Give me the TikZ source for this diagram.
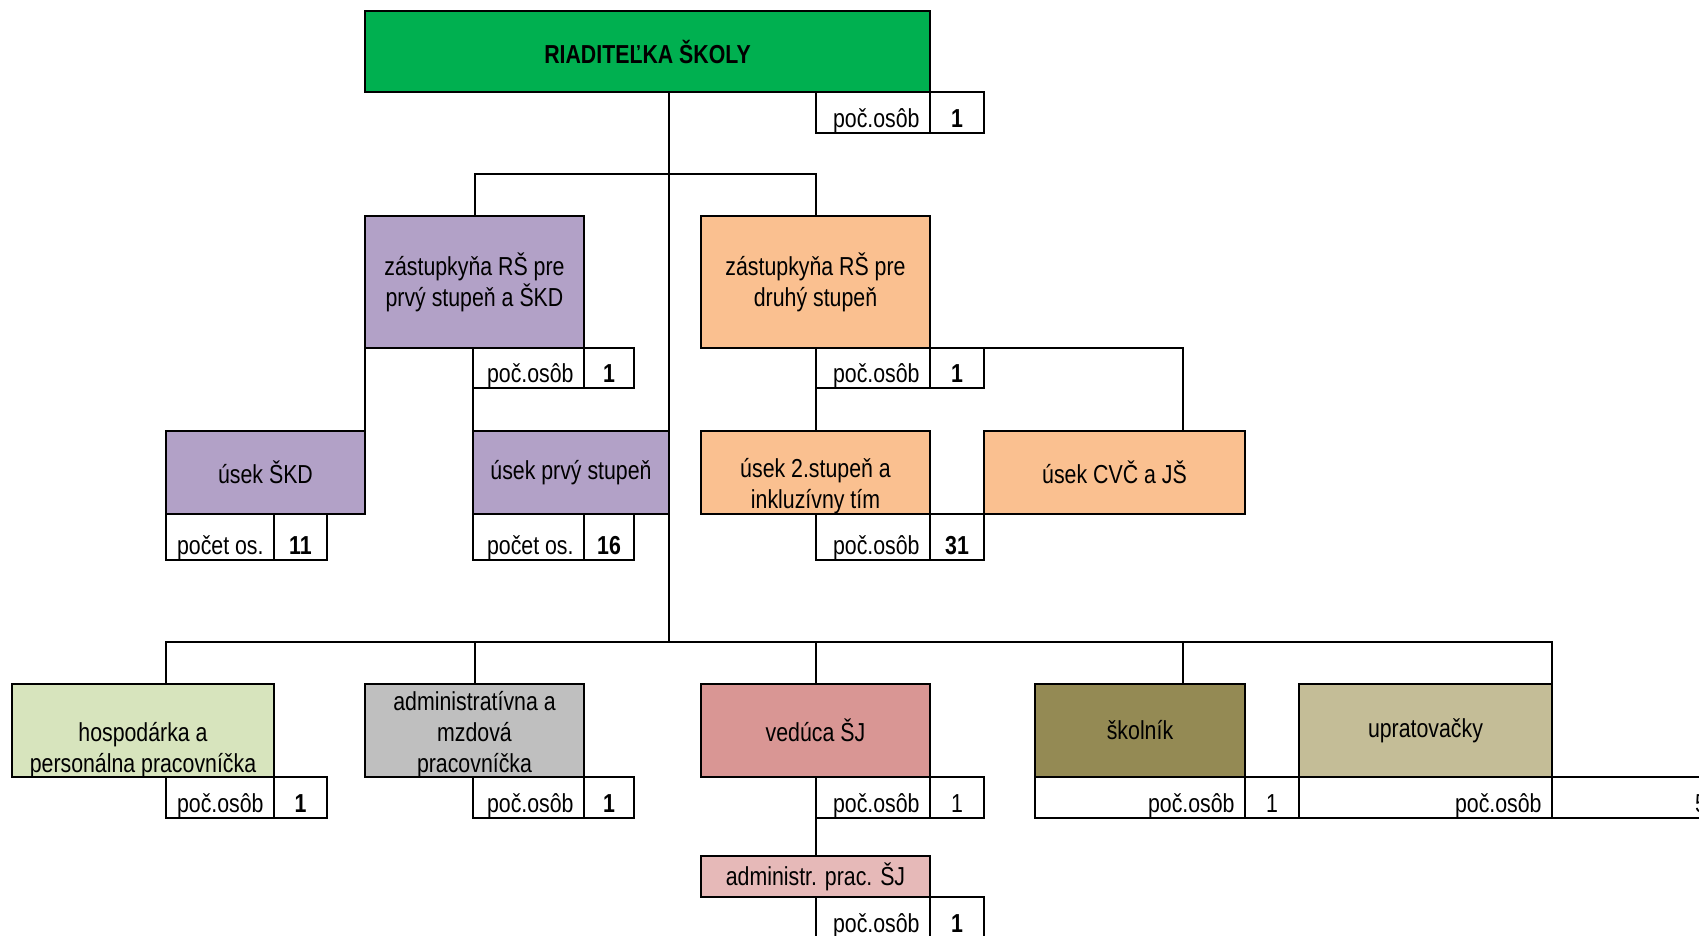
\documentclass[tikz,border=0pt]{standalone}
\usepackage{fontspec}
\setmainfont[FakeStretch=0.82]{Liberation Sans}
\usetikzlibrary{positioning}

\newcommand{\orgfont}{\fontsize{13}{15.5}\selectfont}
% text s prvým riadkom posunutým o #1 (výška boxu nulová)
\newcommand{\boxtext}[2]{\raisebox{#1}[0pt][0pt]{\begin{tabular}[t]{@{}c@{}}#2\end{tabular}}}

\begin{document}
\begin{tikzpicture}[
    x=0.5pt, y=-0.5pt,
    font=\orgfont,
    % Štýly uzlov
    cell/.style 2 args={
        anchor=north west, outer sep=0pt, inner sep=0pt,
        minimum width=#1*0.5pt, minimum height=#2*0.5pt
    },
    unit/.style={
        rectangle, draw=black, fill=#1,
        align=center, line width=1pt
    },
    cnt/.style={
        rectangle, draw=black, fill=white,
        line width=1pt, label={[cnt text]south east:#1}
    },
    num/.style={
        rectangle, draw=black, fill=white,
        line width=1pt, label={[num text]south:#1}
    },
    numr/.style={
        rectangle, draw=black, fill=white,
        line width=1pt, label={[numr text]south:#1}
    },
    cnt text/.style={anchor=base east, xshift=-5pt, yshift=2.6pt, inner sep=0pt, font=\orgfont},
    num text/.style={anchor=base, yshift=2.6pt, inner sep=0pt, font=\orgfont\bfseries},
    numr text/.style={anchor=base, yshift=2.6pt, inner sep=0pt, font=\orgfont},
    link/.style={draw=black, line width=1pt}
]

% ── Farby ──
\definecolor{riagreen}{HTML}{00B050}
\definecolor{zaspurple}{HTML}{B2A1C7}
\definecolor{zasorange}{HTML}{FAC090}
\definecolor{hospgreen}{HTML}{D7E4BD}
\definecolor{admgray}{HTML}{BFBFBF}
\definecolor{vedred}{HTML}{D99694}
\definecolor{sjpink}{HTML}{E6B9B8}
\definecolor{skololive}{HTML}{948A54}
\definecolor{uprtan}{HTML}{C4BD97}

\useasboundingbox (0,0) rectangle (1699,936);

% ════════════════════════════════════════
% ÚROVEŇ 1: riaditeľka
% ════════════════════════════════════════
\node[unit=riagreen, cell={565}{81}, font=\orgfont\bfseries] (ria) at (365,11) {RIADITEĽKA ŠKOLY};
\node[cnt=poč.osôb, cell={114}{41}] (riacnt) at (816,92) {};
\node[num=1,        cell={54}{41}]  (rianum) at (930,92) {};

% ════════════════════════════════════════
% ÚROVEŇ 2: zástupkyne
% ════════════════════════════════════════
\node[unit=zaspurple, cell={219}{132}] (zas1) at (365,216) {zástupkyňa RŠ pre\\prvý stupeň a ŠKD};
\node[cnt=poč.osôb, cell={111}{40}] (zas1cnt) at (473,348) {};
\node[num=1,        cell={50}{40}]  (zas1num) at (584,348) {};

\node[unit=zasorange, cell={229}{132}] (zas2) at (701,216) {zástupkyňa RŠ pre\\druhý stupeň};
\node[cnt=poč.osôb, cell={114}{40}] (zas2cnt) at (816,348) {};
\node[num=1,        cell={54}{40}]  (zas2num) at (930,348) {};

% ════════════════════════════════════════
% ÚROVEŇ 3: úseky
% ════════════════════════════════════════
\node[unit=zaspurple, cell={199}{83}] (skd) at (166,431) {úsek ŠKD};
\node[cnt=počet os., cell={108}{46}] (skdcnt) at (166,514) {};
\node[num=11,        cell={53}{46}]  (skdnum) at (274,514) {};

\node[unit=zaspurple, cell={196}{83}] (prvy) at (473,431) {úsek prvý stupeň};
\node[cnt=počet os., cell={111}{46}] (prvycnt) at (473,514) {};
\node[num=16,        cell={50}{46}]  (prvynum) at (584,514) {};

\node[unit=zasorange, cell={229}{83}] (druhy) at (701,431) {\boxtext{-2.6pt}{úsek 2.stupeň a\\inkluzívny tím}};
\node[cnt=poč.osôb, cell={114}{46}] (druhycnt) at (816,514) {};
\node[num=31,       cell={54}{46}]  (druhynum) at (930,514) {};

\node[unit=zasorange, cell={261}{83}] (cvc) at (984,431) {úsek CVČ a JŠ};

% ════════════════════════════════════════
% ÚROVEŇ 4: prevádzka
% ════════════════════════════════════════
\node[unit=hospgreen, cell={262}{93}] (hosp) at (12,684) {\boxtext{-5.4pt}{hospodárka a\\personálna pracovníčka}};
\node[cnt=poč.osôb, cell={108}{41}] (hospcnt) at (166,777) {};
\node[num=1,        cell={53}{41}]  (hospnum) at (274,777) {};

\node[unit=admgray, cell={219}{93}] (adm) at (365,684) {\boxtext{9.8pt}{administratívna a\\mzdová\\pracovníčka}};
\node[cnt=poč.osôb, cell={111}{41}] (admcnt) at (473,777) {};
\node[num=1,        cell={50}{41}]  (admnum) at (584,777) {};

\node[unit=vedred, cell={229}{93}] (ved) at (701,684) {vedúca ŠJ};
\node[cnt=poč.osôb, cell={114}{41}] (vedcnt) at (816,777) {};
\node[numr=1,       cell={54}{41}]  (vednum) at (930,777) {};

\node[unit=skololive, cell={210}{93}] (skol) at (1035,684) {školník};
\node[cnt=poč.osôb, cell={210}{41}] (skolcnt) at (1035,777) {};
\node[numr=1,       cell={54}{41}]  (skolnum) at (1245,777) {};

\node[unit=uprtan, cell={253}{93}] (upr) at (1299,684) {upratovačky};
\node[cnt=poč.osôb, cell={253}{41}] (uprcnt) at (1299,777) {};
\node[numr=5,       cell={298}{41}] (uprnum) at (1552,777) {};

% ════════════════════════════════════════
% ÚROVEŇ 5: jedáleň
% ════════════════════════════════════════
\node[unit=sjpink, cell={229}{41}] (admsj) at (701,856) {administr. prac. ŠJ};
\node[cnt=poč.osôb, cell={114}{41}] (admsjcnt) at (816,897) {};
\node[num=1,        cell={54}{41}]  (admsjnum) at (930,897) {};

% ════════════════════════════════════════
% SPOJNICE
% ════════════════════════════════════════
\coordinate (topbar)  at (669,174);
\coordinate (botbar)  at (669,642);
\coordinate (cvcdrop) at (1183,431);

% kmeň od riaditeľky
\draw[link] (ria.south -| topbar) -- (botbar);
% zástupkyne
\draw[link] (zas1.north) |- (topbar) -| (zas2.north);
% zástupkyňa 1 -> úseky
\draw[link] (zas1.south west) -- (zas1.south west |- skd.north);
\draw[link] (zas1cnt.south west) -- (zas1cnt.south west |- prvy.north);
% zástupkyňa 2 -> úseky
\draw[link] (zas2cnt.south west) -- (zas2cnt.south west |- druhy.north);
\draw[link] (zas2.south east) -| (cvcdrop);
% prevádzka
\draw[link] (hospcnt.west |- hosp.north) |- (upr.north east |- botbar) -- (upr.north east);
\draw[link] (adm.north) -- (adm.north |- botbar);
\draw[link] (ved.north) -- (ved.north |- botbar);
\draw[link] (skol.north -| cvcdrop) -- (cvcdrop |- botbar);
% vedúca -> administr. prac.
\draw[link] (vedcnt.south west) -- (vedcnt.south west |- admsj.north);

\end{tikzpicture}
\end{document}
